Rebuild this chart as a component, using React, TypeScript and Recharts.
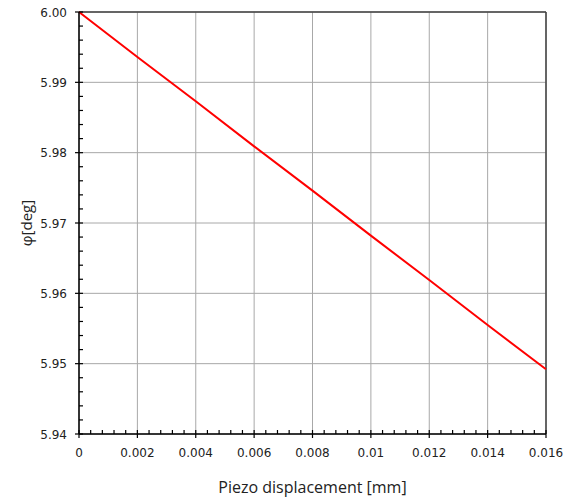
import { LineChart, Line, XAxis, YAxis, CartesianGrid, ReferenceLine } from "recharts"

// piezo displacement [mm] vs angle phi [deg]
const displacement = [0, 0.002, 0.004, 0.006, 0.008, 0.01, 0.012, 0.014, 0.016]
const phi = [6.0, 5.9936, 5.9873, 5.9809, 5.9746, 5.9682, 5.9619, 5.9555, 5.9492]

const xMajorTicks = [0, 0.002, 0.004, 0.006, 0.008, 0.01, 0.012, 0.014, 0.016]
const xTickLabels = ["0", "0.002", "0.004", "0.006", "0.008", "0.01", "0.012", "0.014", "0.016"]
const yMajorTicks = [5.94, 5.95, 5.96, 5.97, 5.98, 5.99, 6.0]
const yTickLabels = ["5.94", "5.95", "5.96", "5.97", "5.98", "5.99", "6.00"]
const minorPerMajor = 5

const data = displacement.map((d, i) => ({ d, phi: phi[i] }))

// split each major interval into minor steps for the small tick marks
const subdivide = (majors: number[]) => {
  const out: number[] = []
  for (let i = 0; i < majors.length - 1; i++) {
    const step = (majors[i + 1] - majors[i]) / minorPerMajor
    for (let k = 0; k < minorPerMajor; k++) out.push(+(majors[i] + k * step).toFixed(6))
  }
  out.push(majors[majors.length - 1])
  return out
}
const xTicks = subdivide(xMajorTicks)
const yTicks = subdivide(yMajorTicks)

const tickFont = "'DejaVu Sans', sans-serif"

const XTick = (props: any) => {
  const { x, y, index } = props
  const major = index % minorPerMajor === 0
  return (
    <g>
      <line x1={x} x2={x} y1={major ? y + 4 : y} y2={y - 4} stroke="#000" strokeWidth={1.2} />
      {major && (
        <text x={x} y={y + 23} textAnchor="middle" fontSize={12} fontFamily={tickFont} fill="#222">
          {xTickLabels[index / minorPerMajor]}
        </text>
      )}
    </g>
  )
}

const YTick = (props: any) => {
  const { x, y, index } = props
  const major = index % minorPerMajor === 0
  return (
    <g>
      <line x1={major ? x - 4 : x} x2={x + 4} y1={y} y2={y} stroke="#000" strokeWidth={1.2} />
      {major && (
        <text x={x - 12} y={y + 4.5} textAnchor="end" fontSize={12} fontFamily={tickFont} fill="#222">
          {yTickLabels[index / minorPerMajor]}
        </text>
      )}
    </g>
  )
}

export default function App() {
  return (
    <div style={{ position: "absolute", left: 0, top: 0 }}>
      <LineChart width={572} height={497} data={data} margin={{ top: 12, right: 26, left: 0, bottom: 0 }}>
        <CartesianGrid
          stroke="#a8a8a8"
          strokeWidth={1}
          horizontalValues={yMajorTicks}
          verticalValues={xMajorTicks}
        />
        <XAxis
          dataKey="d"
          type="number"
          domain={[0, 0.016]}
          ticks={xTicks}
          interval={0}
          tickSize={0}
          tickMargin={0}
          tickLine={false}
          tick={<XTick />}
          height={63}
          axisLine={{ stroke: "#000", strokeWidth: 1.5 }}
          label={{
            value: "Piezo displacement [mm]",
            position: "insideBottom",
            offset: 4,
            style: { fontSize: 16, fontFamily: "'Open Sans', sans-serif", fill: "#222" },
          }}
        />
        <YAxis
          type="number"
          domain={[5.94, 6.0]}
          ticks={yTicks}
          interval={0}
          tickSize={0}
          tickMargin={0}
          tickLine={false}
          tick={<YTick />}
          width={79}
          axisLine={{ stroke: "#000", strokeWidth: 1.5 }}
          label={{
            value: "φ[deg]",
            angle: -90,
            position: "insideLeft",
            offset: 27,
            style: { textAnchor: "middle", fontSize: 15, fontFamily: "'Open Sans', sans-serif", fill: "#222" },
          }}
        />
        <ReferenceLine y={6.0} stroke="#404040" strokeWidth={1.5} />
        <ReferenceLine x={0.016} stroke="#404040" strokeWidth={1.5} />
        <Line
          dataKey="phi"
          type="linear"
          stroke="#ff0000"
          strokeWidth={2}
          dot={false}
          isAnimationActive={false}
        />
      </LineChart>
    </div>
  )
}
